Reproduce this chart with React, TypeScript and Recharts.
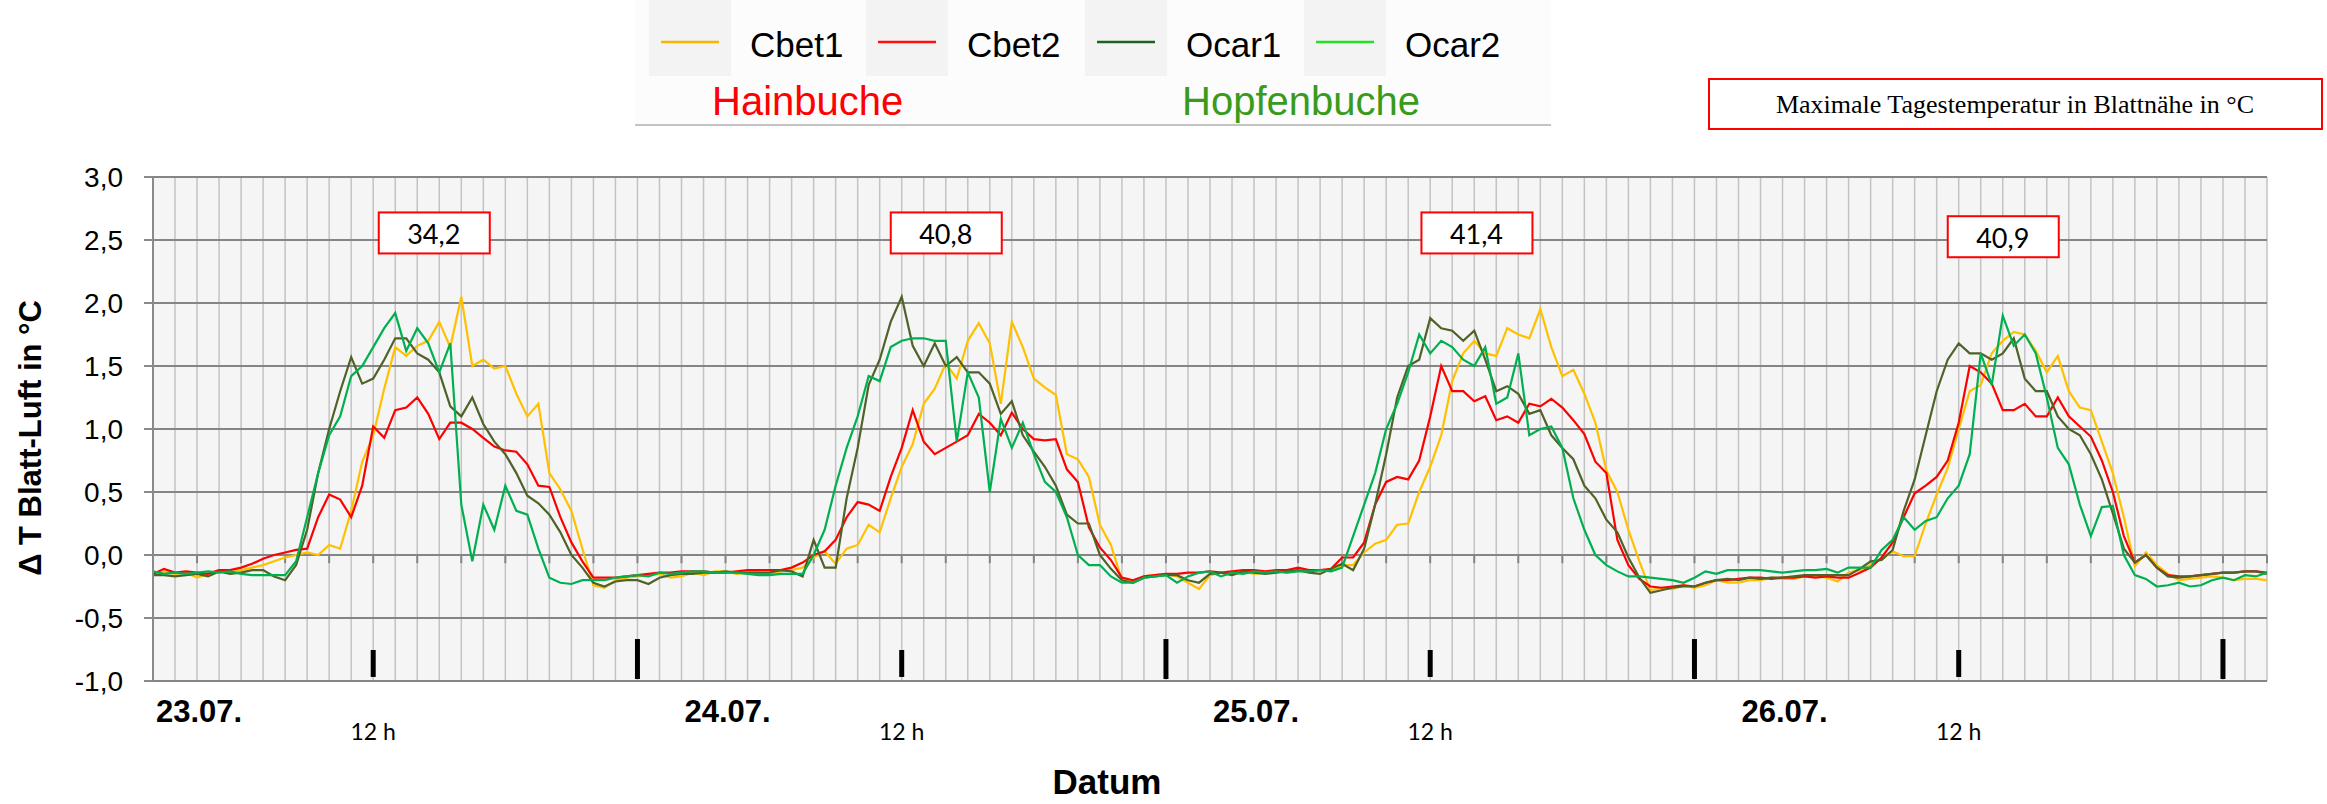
import React from 'react';
import { LineChart, Line, XAxis, YAxis, CartesianGrid, ReferenceLine, ReferenceDot } from 'recharts';

const SANS = '"Liberation Sans", Arial, sans-serif';
const SERIF = '"Liberation Serif", "Times New Roman", serif';
const NUM = 'Lato, "Noto Sans", sans-serif';

// half-hourly readings, 23.07. 02:00 .. 27.07. 02:00 (hours counted from 23.07. 00:00)
const START_HOUR = 2;
const STEP = 0.5;

const cbet1 = [
  -0.15, -0.13, -0.15, -0.14, -0.18, -0.15, -0.12, -0.14, -0.12,
  -0.10, -0.08, -0.05, -0.02, 0.00, 0.02, 0.00, 0.08, 0.05, 0.35, 0.74, 0.95, 1.32, 1.65, 1.58, 1.66,
  1.70, 1.85, 1.65, 2.05, 1.50, 1.55, 1.48, 1.50, 1.28, 1.10, 1.20, 0.65, 0.52, 0.35, 0.05,
  -0.24, -0.26, -0.20, -0.18, -0.17, -0.16, -0.15, -0.18, -0.17, -0.14, -0.16, -0.13, -0.13, -0.15, -0.14, -0.14, -0.15,
  -0.13, -0.12, -0.10, -0.02, 0.03, -0.07, 0.05, 0.08, 0.24, 0.18, 0.45, 0.70, 0.88, 1.20, 1.32, 1.52,
  1.40, 1.70, 1.84, 1.68, 1.20, 1.85, 1.65, 1.40, 1.33, 1.27, 0.80, 0.76, 0.62, 0.24, 0.08,
  -0.20, -0.21, -0.17, -0.16, -0.15, -0.17, -0.22, -0.27, -0.16, -0.14, -0.16, -0.13, -0.15, -0.14, -0.13, -0.14, -0.12,
  -0.12, -0.12, -0.12, -0.08, -0.08, 0.02, 0.09, 0.12, 0.24, 0.25, 0.50, 0.70, 0.95, 1.38, 1.60, 1.70,
  1.60, 1.58, 1.80, 1.75, 1.72, 1.95, 1.65, 1.42, 1.47, 1.28, 1.05, 0.67, 0.50, 0.20, -0.05,
  -0.28, -0.26, -0.27, -0.24, -0.26, -0.24, -0.20, -0.22, -0.22, -0.20, -0.20, -0.18, -0.19, -0.19, -0.17, -0.17, -0.18,
  -0.21, -0.14, -0.12, -0.08, -0.03, 0.03, -0.01, -0.01, 0.25, 0.48, 0.69, 1.00, 1.30, 1.35, 1.60, 1.70,
  1.77, 1.75, 1.62, 1.45, 1.58, 1.30, 1.17, 1.15, 0.90, 0.65, 0.30, -0.09, 0.02, -0.08, -0.15,
  -0.20, -0.19, -0.18, -0.17, -0.18, -0.20, -0.19, -0.19, -0.20,
];

const cbet2 = [
  -0.15, -0.11, -0.14, -0.13, -0.14, -0.15, -0.12, -0.12, -0.10,
  -0.07, -0.03, 0.00, 0.02, 0.04, 0.05, 0.30, 0.48, 0.44, 0.30, 0.55, 1.02, 0.93, 1.15, 1.17, 1.25,
  1.12, 0.92, 1.05, 1.05, 1.00, 0.93, 0.86, 0.83, 0.82, 0.72, 0.55, 0.54, 0.30, 0.10, -0.05,
  -0.18, -0.18, -0.18, -0.17, -0.16, -0.15, -0.14, -0.14, -0.13, -0.13, -0.13, -0.14, -0.14, -0.13, -0.12, -0.12, -0.12,
  -0.12, -0.10, -0.06, 0.00, 0.03, 0.12, 0.30, 0.42, 0.40, 0.35, 0.62, 0.85, 1.15, 0.90, 0.80, 0.85,
  0.90, 0.95, 1.12, 1.05, 0.95, 1.13, 1.00, 0.92, 0.91, 0.92, 0.68, 0.58, 0.22, 0.06, -0.04,
  -0.18, -0.20, -0.17, -0.16, -0.15, -0.15, -0.14, -0.14, -0.13, -0.14, -0.13, -0.12, -0.12, -0.13, -0.12, -0.12, -0.10,
  -0.12, -0.12, -0.11, -0.02, -0.02, 0.10, 0.40, 0.58, 0.62, 0.60, 0.75, 1.10, 1.50, 1.30, 1.30, 1.22,
  1.26, 1.07, 1.10, 1.05, 1.20, 1.18, 1.24, 1.17, 1.07, 0.96, 0.74, 0.65, 0.12, -0.08, -0.19,
  -0.25, -0.26, -0.25, -0.24, -0.25, -0.22, -0.20, -0.20, -0.19, -0.18, -0.18, -0.19, -0.18, -0.18, -0.17, -0.18, -0.17,
  -0.18, -0.18, -0.14, -0.10, -0.02, 0.10, 0.30, 0.49, 0.55, 0.62, 0.75, 1.05, 1.50, 1.45, 1.36, 1.15,
  1.15, 1.20, 1.10, 1.10, 1.25, 1.10, 1.02, 0.94, 0.75, 0.50, 0.15, -0.06, 0.00, -0.10, -0.16,
  -0.17, -0.17, -0.16, -0.15, -0.14, -0.14, -0.13, -0.13, -0.14,
];

const ocar1 = [
  -0.16, -0.16, -0.17, -0.16, -0.15, -0.17, -0.13, -0.15, -0.14,
  -0.12, -0.12, -0.17, -0.20, -0.08, 0.20, 0.65, 1.00, 1.30, 1.57, 1.36, 1.40, 1.55, 1.72, 1.72, 1.60,
  1.55, 1.45, 1.18, 1.10, 1.25, 1.04, 0.90, 0.80, 0.65, 0.47, 0.41, 0.32, 0.18, 0.00, -0.10,
  -0.22, -0.25, -0.21, -0.20, -0.20, -0.23, -0.18, -0.16, -0.15, -0.15, -0.14, -0.14, -0.13, -0.14, -0.14, -0.14, -0.14,
  -0.12, -0.13, -0.17, 0.12, -0.10, -0.10, 0.45, 0.85, 1.35, 1.55, 1.85, 2.05, 1.66, 1.50, 1.68, 1.50,
  1.57, 1.45, 1.45, 1.36, 1.12, 1.22, 0.95, 0.82, 0.70, 0.55, 0.32, 0.25, 0.25, 0.00, -0.11,
  -0.20, -0.22, -0.18, -0.17, -0.16, -0.16, -0.20, -0.22, -0.15, -0.14, -0.16, -0.13, -0.14, -0.15, -0.14, -0.13, -0.12,
  -0.14, -0.15, -0.11, -0.07, -0.12, 0.05, 0.40, 0.80, 1.25, 1.50, 1.55, 1.88, 1.80, 1.78, 1.70, 1.78,
  1.55, 1.30, 1.34, 1.28, 1.12, 1.15, 0.95, 0.85, 0.76, 0.55, 0.45, 0.28, 0.18, -0.02, -0.18,
  -0.30, -0.28, -0.26, -0.25, -0.25, -0.22, -0.20, -0.19, -0.20, -0.18, -0.19, -0.18, -0.18, -0.17, -0.16, -0.16, -0.16,
  -0.16, -0.16, -0.11, -0.05, -0.04, 0.04, 0.35, 0.60, 0.95, 1.30, 1.55, 1.68, 1.60, 1.60, 1.55, 1.60,
  1.72, 1.40, 1.30, 1.30, 1.10, 1.00, 0.95, 0.80, 0.60, 0.33, 0.05, -0.06, 0.00, -0.10, -0.17,
  -0.18, -0.17, -0.16, -0.15, -0.14, -0.14, -0.13, -0.13, -0.15,
];

const ocar2 = [
  -0.13, -0.15, -0.14, -0.15, -0.14, -0.13, -0.14, -0.13, -0.15,
  -0.16, -0.16, -0.16, -0.16, -0.05, 0.30, 0.65, 0.95, 1.10, 1.42, 1.50, 1.65, 1.80, 1.92, 1.62, 1.80,
  1.68, 1.45, 1.68, 0.40, -0.05, 0.40, 0.20, 0.55, 0.35, 0.32, 0.05, -0.18, -0.22, -0.23, -0.20,
  -0.20, -0.20, -0.18, -0.17, -0.16, -0.17, -0.14, -0.15, -0.14, -0.13, -0.13, -0.14, -0.14, -0.14, -0.15, -0.16, -0.16,
  -0.15, -0.15, -0.15, 0.00, 0.20, 0.55, 0.85, 1.10, 1.42, 1.38, 1.65, 1.70, 1.72, 1.72, 1.70, 1.70,
  0.90, 1.45, 1.25, 0.50, 1.08, 0.85, 1.05, 0.80, 0.58, 0.50, 0.30, 0.00, -0.08, -0.08, -0.17,
  -0.22, -0.22, -0.18, -0.17, -0.16, -0.22, -0.17, -0.14, -0.13, -0.17, -0.14, -0.15, -0.13, -0.14, -0.13, -0.14, -0.13,
  -0.13, -0.12, -0.13, -0.10, 0.15, 0.40, 0.65, 1.00, 1.20, 1.45, 1.75, 1.60, 1.70, 1.65, 1.55, 1.50,
  1.65, 1.20, 1.25, 1.60, 0.95, 1.00, 1.02, 0.85, 0.45, 0.20, 0.00, -0.08, -0.13, -0.17, -0.17,
  -0.18, -0.19, -0.20, -0.22, -0.18, -0.13, -0.15, -0.12, -0.12, -0.12, -0.12, -0.13, -0.14, -0.13, -0.12, -0.12, -0.11,
  -0.14, -0.10, -0.10, -0.10, 0.04, 0.12, 0.30, 0.20, 0.27, 0.30, 0.45, 0.55, 0.80, 1.60, 1.35, 1.90,
  1.66, 1.75, 1.60, 1.25, 0.85, 0.72, 0.40, 0.15, 0.38, 0.39, 0.00, -0.16, -0.19, -0.25, -0.24,
  -0.22, -0.25, -0.24, -0.20, -0.18, -0.20, -0.16, -0.17, -0.14,
];

const seriesKeys = ['cbet1', 'cbet2', 'ocar1', 'ocar2'];
const seriesNames = ['Cbet1', 'Cbet2', 'Ocar1', 'Ocar2'];
const seriesColors = ['#FFC000', '#FF0000', '#4F6228', '#00B050'];
const legendColors = ['#F7B400', '#FF1010', '#1F5F1F', '#22E022'];

const yTicks = [-1, -0.5, 0, 0.5, 1, 1.5, 2, 2.5, 3];
const dateLabels = ['23.07.', '24.07.', '25.07.', '26.07.'];
const dateHours = [2, 26, 50, 74];
const noonHours = [12, 36, 60, 84];
const midnightHours = [24, 48, 72, 96];

const maxTemps = ['34,2', '40,8', '41,4', '40,9'];
const maxTempHours = [14.75, 38, 62.1, 86];
const maxTempY = [2.56, 2.56, 2.56, 2.53];

const hours = cbet1.map((_, i) => START_HOUR + i * STEP);
const hourTicks = Array.from({ length: 97 }, (_, i) => START_HOUR + i);
const axisTicks = hourTicks.filter((h) => h % 2 === 0);
const labelTicks = [...dateHours, ...noonHours].sort((a, b) => a - b);

const DayTick = (props: any) => {
  const { x, y, payload } = props;
  const di = dateHours.indexOf(payload.value);
  if (di >= 0) {
    return (
      <text x={x + 3} y={y + 41} fontSize={31} fontWeight="bold" fontFamily={SANS} fill="#000" textAnchor="start">
        {dateLabels[di]}
      </text>
    );
  }
  return (
    <text x={x} y={y + 59} fontSize={23} fontFamily={NUM} fill="#000" textAnchor="middle">
      12 h
    </text>
  );
};

const TempBox = (props: any) => {
  const { cx, cy, label } = props;
  return (
    <g>
      <rect x={cx - 55} y={cy - 20} width={111} height={41} fill="#fff" stroke="#FF0000" strokeWidth={2} />
      <text x={cx} y={cy + 1} fontSize={27} fontFamily={NUM} fill="#000" textAnchor="middle" dominantBaseline="central">
        {label}
      </text>
    </g>
  );
};

const legendX = [661, 878, 1097, 1316];

export default function App() {
  const data = hours.map((h, i) => ({
    h,
    cbet1: cbet1[i],
    cbet2: cbet2[i],
    ocar1: ocar1[i],
    ocar2: ocar2[i],
  }));

  return (
    <div style={{ position: 'relative', width: 2327, height: 804, background: '#fff', fontFamily: SANS }}>
      <style>{'body{margin:0}'}</style>
      <LineChart width={2327} height={804} data={data} margin={{ top: 177, right: 60, bottom: 63, left: 0 }}>
        <XAxis xAxisId="hours" dataKey="h" type="number" domain={[2, 98]} ticks={hourTicks} hide allowDataOverflow />
        <XAxis
          dataKey="h"
          type="number"
          domain={[2, 98]}
          ticks={labelTicks}
          interval={0}
          height={60}
          tickLine={false}
          axisLine={false}
          tickSize={0}
          tickMargin={0}
          tick={(p: any) => <DayTick {...p} />}
          allowDataOverflow
        />
        <YAxis
          domain={[-1, 3]}
          ticks={yTicks}
          interval={0}
          width={153}
          tickSize={9}
          tickMargin={21}
          allowDataOverflow
          axisLine={{ stroke: '#8a8a8a', strokeWidth: 2 }}
          tickLine={{ stroke: '#8a8a8a', strokeWidth: 2 }}
          tick={{ fontSize: 28, fill: '#000', fontFamily: SANS }}
          tickFormatter={(v: number) => v.toFixed(1).replace('.', ',')}
          label={{
            content: (p: any) => {
              const vb = p.viewBox || { x: 0, y: 177, height: 504 };
              const cx = vb.x + 30;
              const cy = vb.y + vb.height / 2 + 9;
              return (
                <text
                  x={cx}
                  y={cy}
                  transform={`rotate(-90 ${cx} ${cy})`}
                  textAnchor="middle"
                  dominantBaseline="central"
                  fontSize={31}
                  fontWeight="bold"
                  fontFamily={SANS}
                  fill="#000"
                >
                  Δ T Blatt-Luft in °C
                </text>
              );
            },
          }}
        />
        <CartesianGrid xAxisId="hours" horizontal={false} fill="#F5F5F5" stroke="#C3C3C3" strokeWidth={1.5} />
        <CartesianGrid vertical={false} stroke="#858585" strokeWidth={2} />

        {axisTicks.map((h) => (
          <ReferenceLine key={`t${h}`} segment={[{ x: h, y: 0 }, { x: h, y: -0.065 }]} stroke="#858585" strokeWidth={2} />
        ))}
        {noonHours.map((h) => (
          <ReferenceLine key={`n${h}`} segment={[{ x: h, y: -0.754 }, { x: h, y: -0.968 }]} stroke="#000" strokeWidth={5} />
        ))}
        {midnightHours.map((h) => (
          <ReferenceLine key={`m${h}`} segment={[{ x: h, y: -0.667 }, { x: h, y: -0.984 }]} stroke="#000" strokeWidth={5} />
        ))}

        {seriesKeys.map((k, i) => (
          <Line
            key={k}
            dataKey={k}
            name={seriesNames[i]}
            type="linear"
            stroke={seriesColors[i]}
            strokeWidth={2.2}
            dot={false}
            activeDot={false}
            isAnimationActive={false}
          />
        ))}

        {maxTemps.map((t, i) => (
          <ReferenceDot
            key={t}
            x={maxTempHours[i]}
            y={maxTempY[i]}
            r={0}
            shape={(p: any) => <TempBox {...p} label={t} />}
          />
        ))}
      </LineChart>

      <svg width={2327} height={804} style={{ position: 'absolute', left: 0, top: 0, pointerEvents: 'none' }}>
        {/* legend panel */}
        <rect x={635} y={0} width={916} height={125} fill="#FCFCFC" />
        {legendX.map((x) => (
          <rect key={`s${x}`} x={x - 12} y={0} width={82} height={76} fill="#F3F3F3" />
        ))}
        <line x1={635} y1={125} x2={1551} y2={125} stroke="#C4C4C4" strokeWidth={2} />
        {seriesNames.map((n, i) => (
          <g key={n}>
            <line x1={legendX[i]} y1={42} x2={legendX[i] + 58} y2={42} stroke={legendColors[i]} strokeWidth={2.5} />
            <text x={legendX[i] + 89} y={57} fontSize={35} fontFamily={SANS} fill="#000">
              {n}
            </text>
          </g>
        ))}
        <text x={712} y={115} fontSize={40} fontFamily={SANS} fill="#FF0000">
          Hainbuche
        </text>
        <text x={1182} y={115} fontSize={40} fontFamily={SANS} fill="#3A9A1A">
          Hopfenbuche
        </text>

        {/* note box */}
        <rect x={1709} y={79} width={613} height={50} fill="#fff" stroke="#FF0000" strokeWidth={2} />
        <text x={2015} y={113} fontSize={26} fontFamily={SERIF} fill="#000" textAnchor="middle">
          Maximale Tagestemperatur in Blattnähe in °C
        </text>

        <text x={1107} y={794} fontSize={35} fontWeight="bold" fontFamily={SANS} fill="#000" textAnchor="middle">
          Datum
        </text>
      </svg>
    </div>
  );
}
